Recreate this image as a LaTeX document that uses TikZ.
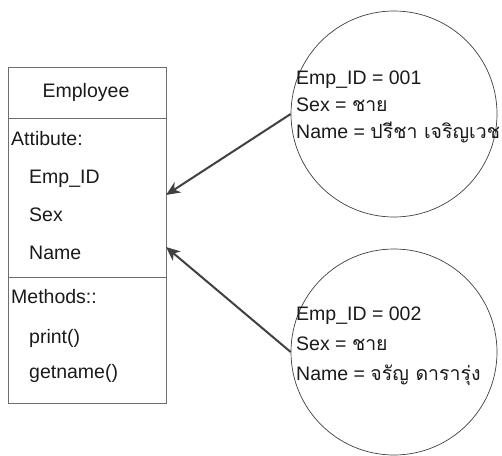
\documentclass[tikz,border=0pt]{standalone}
\usepackage{fontspec}
\setmainfont{Liberation Sans}
\newfontfamily\thaifont[Script=Thai]{Loma}
\usetikzlibrary{arrows.meta, positioning}
\definecolor{umLine}{HTML}{6E6E6E}
\definecolor{umArrow}{HTML}{404040}
\definecolor{umText}{HTML}{1A1A1A}
\tikzset{
  umclass/.style={rectangle, draw=umLine, line width=1pt, inner sep=0pt},
  umsep/.style={draw=umLine, line width=1pt},
  umobj/.style={circle, draw=umArrow, line width=0.7pt, inner sep=0pt, minimum size=206},
  umtxt/.style={anchor=mid west, inner sep=0pt, text=umText, font=\fontsize{19.5}{22}\selectfont},
  umlink/.style={-{Stealth[length=14pt, width=12pt, inset=4pt]}, line width=2pt, color=umArrow},
}

\begin{document}
\begin{tikzpicture}[x=1pt, y=-1pt]
  \useasboundingbox (0,0) rectangle (502,455);
  % class
  \node[umclass, anchor=north west, minimum width=158.5, minimum height=336](cls) at (7.5,67) {};
  \draw[umsep] (7.5,118) -- (166,118);
  \draw[umsep] (7.5,277) -- (166,277);
  \node[umtxt, anchor=mid] (title) at (86,95) {Employee};
  \node[umtxt] (attr) at (11,143) {Attibute:};
  \node[umtxt] (aid) at (29,181) {Emp\_ID};
  \node[umtxt] (asex) at (29,219) {Sex};
  \node[umtxt] (aname) at (29,257) {Name};
  \node[umtxt] (meth) at (11,301) {Methods::};
  \node[umtxt] (mprint) at (29,341) {print()};
  \node[umtxt] (mget) at (29,376) {getname()};
  % objects
  \node[umobj] (obj1) at (394,114) {};
  \node[umtxt] (o1id) at (296,82) {Emp\_ID = 001};
  \node[umtxt] (o1sex) at (296,109) {Sex = {\thaifont ชาย}};
  \node[umtxt] (o1name) at (296,136) {Name = {\thaifont ปรีชา เจริญเวช}};
  \node[umobj] (obj2) at (394,352) {};
  \node[umtxt] (o2id) at (296,318) {Emp\_ID = 002};
  \node[umtxt] (o2sex) at (296,348) {Sex = {\thaifont ชาย}};
  \node[umtxt] (o2name) at (296,378) {Name = {\thaifont จรัญ ดารารุ่ง}};
  \coordinate (tip1) at (166,195);
  \coordinate (tip2) at (166,247);
  \draw[umlink] (obj1.west) -- (tip1);
  \draw[umlink] (obj2.west) -- (tip2);
\end{tikzpicture}
\end{document}
